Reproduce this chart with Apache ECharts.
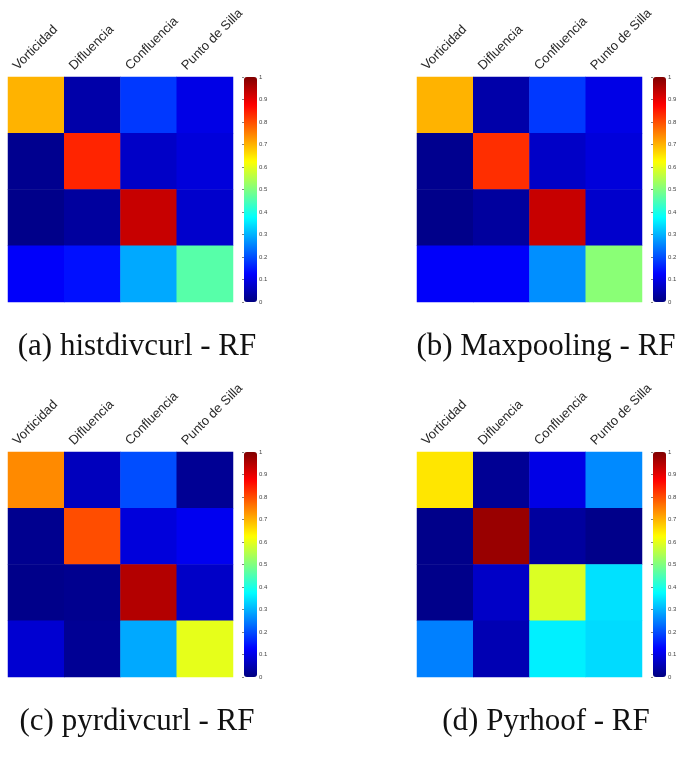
<!DOCTYPE html>
<html>
<head>
<meta charset="utf-8">
<script src="https://cdn.jsdelivr.net/npm/echarts@6/dist/echarts.min.js"></script>
<style>
html,body{margin:0;padding:0;background:#fff;}
#chart{width:687px;height:758px;}
</style>
</head>
<body>
<div id="chart"></div>
<script>
// ---- data ----
const categories = ['Vorticidad', 'Difluencia', 'Confluencia', 'Punto de Silla'];
const matrixA = [
  [0.70, 0.04, 0.18, 0.10],
  [0.015, 0.84, 0.07, 0.09],
  [0.01, 0.03, 0.93, 0.075],
  [0.12, 0.14, 0.29, 0.46]
];
const matrixB = [
  [0.70, 0.04, 0.18, 0.10],
  [0.015, 0.83, 0.07, 0.09],
  [0.01, 0.03, 0.93, 0.075],
  [0.12, 0.12, 0.265, 0.51]
];
const matrixC = [
  [0.74, 0.06, 0.20, 0.02],
  [0.015, 0.80, 0.09, 0.11],
  [0.01, 0.015, 0.95, 0.07],
  [0.08, 0.02, 0.29, 0.60]
];
const matrixD = [
  [0.65, 0.02, 0.10, 0.26],
  [0.01, 0.975, 0.03, 0.01],
  [0.01, 0.07, 0.59, 0.345],
  [0.25, 0.05, 0.36, 0.34]
];
const colorbarMin = 0;
const colorbarMax = 1;
const colorbarStep = 0.1;
const captions = ['(a) histdivcurl - RF', '(b) Maxpooling - RF', '(c) pyrdivcurl - RF', '(d) Pyrhoof - RF'];
const matrices = [matrixA, matrixB, matrixC, matrixD];

// ---- layout / style ----
const jet = ['#000080', '#0000ff', '#0080ff', '#00ffff', '#80ff80', '#ffff00', '#ff8000', '#ff0000', '#800000'];
const panels = [
  { left: 8, top: 77, capX: 137, capY: 331 },
  { left: 417, top: 77, capX: 546, capY: 331 },
  { left: 8, top: 452, capX: 137, capY: 706 },
  { left: 417, top: 452, capX: 546, capY: 706 }
];
const SIZE = 225;

const grid = [], xAxis = [], yAxis = [], series = [], visualMap = [], title = [];
panels.forEach((p, i) => {
  const g0 = grid.length;
  // heatmap grid
  grid.push({ left: p.left, top: p.top, width: SIZE, height: SIZE, outerBoundsMode: 'none' });
  xAxis.push({ type: 'category', gridIndex: g0, data: categories, show: false });
  yAxis.push({ type: 'category', gridIndex: g0, data: categories, inverse: true, show: false });
  // label grid (shifted to match rotated label placement)
  grid.push({ left: p.left - 21, top: p.top, width: SIZE, height: SIZE, outerBoundsMode: 'none' });
  xAxis.push({
    type: 'category', gridIndex: g0 + 1, data: categories, position: 'top',
    axisLine: { show: false }, axisTick: { show: false }, splitLine: { show: false },
    axisLabel: { rotate: -45, margin: 9, interval: 0, fontSize: 13, color: '#2a2a2a', fontFamily: 'Liberation Sans' }
  });
  yAxis.push({ type: 'category', gridIndex: g0 + 1, data: categories, show: false });
  // colorbar tick grid
  grid.push({ left: p.left + 236, top: p.top, width: 13, height: SIZE, outerBoundsMode: 'none' });
  xAxis.push({ type: 'value', gridIndex: g0 + 2, show: false, min: 0, max: 1 });
  yAxis.push({
    type: 'value', gridIndex: g0 + 2, min: colorbarMin, max: colorbarMax, interval: colorbarStep,
    position: 'right',
    axisLine: { show: false },
    splitLine: { show: false },
    axisTick: { show: true, inside: true, length: 2, lineStyle: { color: '#333', width: 0.6 } },
    axisLabel: { fontSize: 6, color: '#444', margin: 2, fontFamily: 'Liberation Sans' }
  });

  const data = [];
  matrices[i].forEach((row, r) => row.forEach((v, c) => data.push([c, r, v])));
  series.push({
    type: 'heatmap', xAxisIndex: g0, yAxisIndex: g0, data: data,
    emphasis: { disabled: true }, itemStyle: { borderWidth: 0 }
  });
  visualMap.push({
    type: 'continuous', seriesIndex: i, min: colorbarMin, max: colorbarMax,
    orient: 'vertical', left: p.left + 236, top: p.top,
    itemWidth: 13, itemHeight: SIZE, padding: 0,
    calculable: false, hoverLink: false,
    text: null,
    textStyle: { fontSize: 0, color: 'rgba(0,0,0,0)' },
    inRange: { color: jet }
  });
  title.push({
    text: captions[i], left: p.capX, top: p.capY, textAlign: 'center', padding: 0,
    textStyle: { fontFamily: 'Liberation Serif', fontSize: 31, fontWeight: 'normal', color: '#111' }
  });
});

const chart = echarts.init(document.getElementById('chart'), null, { renderer: 'canvas' });
chart.setOption({
  animation: false,
  backgroundColor: '#fff',
  title, grid, xAxis, yAxis, series, visualMap
});
</script>
</body>
</html>
